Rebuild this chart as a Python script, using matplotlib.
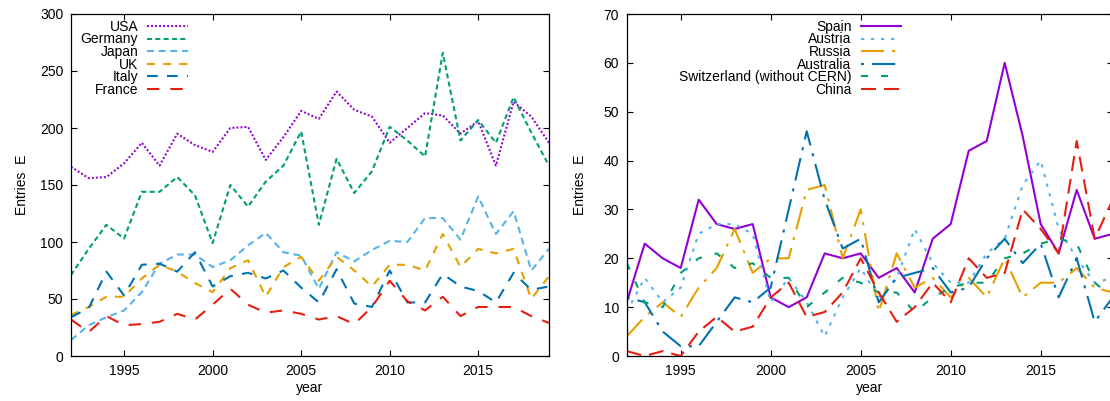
import numpy as np
import matplotlib
matplotlib.use('Agg')
import matplotlib.pyplot as plt

# ── Data ──────────────────────────────────────────────────────────────────────
years = list(range(1992, 2020))

# left panel
usa     = [166, 156, 157, 169, 187, 167, 195, 185, 179, 200, 201, 172, 192, 215,
           208, 232, 216, 210, 187, 200, 213, 211, 195, 206, 167, 223, 210, 187]
germany = [71, 94, 115, 103, 144, 144, 157, 141, 99, 150, 131, 153, 167, 197,
           115, 173, 143, 162, 201, 189, 175, 266, 189, 207, 187, 227, 196, 167]
japan   = [14, 27, 34, 40, 56, 81, 89, 89, 78, 84, 97, 108, 91, 88,
           59, 91, 83, 93, 101, 100, 121, 121, 102, 140, 107, 127, 75, 94]
uk      = [36, 43, 52, 52, 68, 80, 74, 64, 56, 77, 84, 52, 78, 87,
           66, 87, 75, 61, 80, 80, 75, 107, 78, 94, 90, 94, 50, 70]
italy   = [34, 42, 74, 53, 80, 81, 74, 91, 61, 70, 73, 68, 75, 60,
           47, 76, 46, 43, 75, 47, 47, 72, 61, 57, 47, 73, 58, 61]
france  = [32, 21, 35, 27, 28, 30, 37, 32, 45, 59, 45, 38, 40, 37,
           32, 35, 28, 43, 66, 48, 40, 52, 35, 43, 43, 43, 35, 29]

# right panel
spain       = [11, 23, 20, 18, 32, 27, 26, 27, 12, 10, 12, 21, 20, 21,
               16, 18, 13, 24, 27, 42, 44, 60, 45, 27, 21, 34, 24, 25]
austria     = [9, 16, 11, 14, 25, 27, 27, 25, 11, 16, 11, 4, 12, 18,
               12, 16, 26, 19, 15, 15, 21, 24, 35, 40, 26, 20, 15, 16]
russia      = [4, 8, 11, 8, 14, 18, 26, 17, 20, 20, 34, 35, 20, 30,
               9, 21, 14, 16, 12, 16, 12, 20, 12, 15, 15, 18, 14, 13]
australia   = [12, 11, 5, 2, 2, 7, 12, 11, 14, 30, 46, 32, 22, 24,
               11, 16, 17, 18, 13, 14, 20, 24, 19, 23, 12, 20, 7, 12]
switzerland = [19, 11, 10, 17, 20, 21, 18, 19, 16, 16, 10, 13, 16, 15,
               13, 13, 9, 12, 14, 15, 15, 20, 21, 23, 24, 23, 15, 12]
china       = [1, 0, 1, 0, 5, 8, 5, 6, 12, 15, 8, 9, 13, 20,
               13, 7, 10, 15, 11, 20, 16, 17, 30, 26, 21, 44, 24, 32]

# ── Styles (gnuplot-like colours / dash types, dashes in points) ──────────────
left_series = [
    ('USA',     usa,     '#9400d3', (0, (1.4, 1.5))),
    ('Germany', germany, '#009e73', (0, (3.6, 2.4))),
    ('Japan',   japan,   '#56b4e9', (0, (5.0, 3.4))),
    ('UK',      uk,      '#e69f00', (0, (5.8, 5.8))),
    ('Italy',   italy,   '#0072b2', (0, (7.7, 6.7))),
    ('France',  france,  '#e51e10', (0, (8.9, 7.9))),
]
right_series = [
    ('Spain',                      spain,       '#9400d3', '-'),
    ('Austria',                    austria,     '#56b4e9', (0, (2.4, 4.8))),
    ('Russia',                     russia,      '#e69f00', (0, (16.6, 5.8, 2.2, 5.8))),
    ('Australia',                  australia,   '#0072b2', (0, (2.2, 5.8, 16.6, 5.8))),
    ('Switzerland (without CERN)', switzerland, '#009e73', (0, (5.0, 9.4))),
    ('China',                      china,       '#e51e10', (0, (10.8, 5.8))),
]

plt.rcParams['font.family'] = ['Liberation Sans', 'DejaVu Sans']
plt.rcParams['font.size'] = 10
plt.rcParams['lines.scale_dashes'] = False

W, H = 1110, 401
fig = plt.figure(figsize=(W / 100, H / 100), dpi=100)
ax1 = fig.add_axes([71 / W, 45 / H, 478 / W, 342 / H])
ax2 = fig.add_axes([626.7 / W, 45 / H, 486 / W, 342 / H])


def style_axes(ax, ylim, yticks, ylab_x):
    ax.set_xlim(1992, 2019)
    ax.set_ylim(*ylim)
    ax.set_xticks([1995, 2000, 2005, 2010, 2015])
    ax.set_yticks(yticks)
    ax.tick_params(direction='in', top=True, right=True, length=4.3, width=0.8)
    ax.tick_params(axis='x', pad=6)
    ax.tick_params(axis='y', pad=5.5)
    for s in ax.spines.values():
        s.set_linewidth(0.9)
    ax.set_xlabel('year', labelpad=2)
    ax.set_ylabel('Entries  E')
    ax.yaxis.set_label_coords(ylab_x, 0.5)


def add_legend(ax, x0):
    leg = ax.legend(loc='upper left', bbox_to_anchor=(x0, 0.983), frameon=False,
                    markerfirst=False, handlelength=2.9, handletextpad=0.65,
                    labelspacing=-0.1, borderpad=0, borderaxespad=0)
    # right-justify the labels like gnuplot's key
    for col in leg._legend_handle_box.get_children():
        col.align = 'right'


for name, vals, col, ls in left_series:
    ax1.plot(years, vals, color=col, linestyle=ls, linewidth=1.5, label=name)
style_axes(ax1, (0, 300), range(0, 301, 50), -0.088)
add_legend(ax1, 0.0203)

for name, vals, col, ls in right_series:
    ax2.plot(years, vals, color=col, linestyle=ls, linewidth=1.5, label=name)
style_axes(ax2, (0, 70), range(0, 71, 10), -0.082)
add_legend(ax2, 0.108)

fig.savefig('out.png', dpi=100)
